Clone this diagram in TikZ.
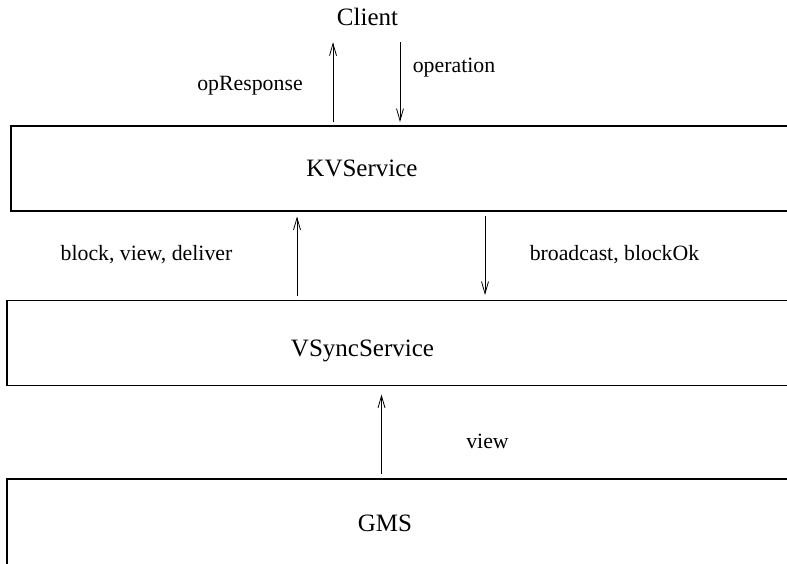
\documentclass[tikz,border=0pt]{standalone}
\usepackage{fontspec}
\setmainfont{Liberation Serif}
\usetikzlibrary{arrows.meta}
\begin{document}
\begin{tikzpicture}[x=1pt,y=-1pt,
  box/.style={draw, line width=1.1pt, rectangle, anchor=north west, inner sep=0pt, outer sep=0pt},
  title/.style={font=\fontsize{25}{30}\selectfont, anchor=base, inner sep=0pt, outer sep=0pt},
  lbl/.style={font=\fontsize{21.8}{26}\selectfont, anchor=base, inner sep=0pt},
  arr/.style={line width=0.8pt, -{Straight Barb[length=12pt,width=7pt]}}]
\useasboundingbox (0,0) rectangle (787,563);
\clip (0,0) rectangle (787,563);
% boxes
\node[box, minimum width=800pt, minimum height=85pt] (kv) at (11,126) {};
\node[box, minimum width=800pt, minimum height=85pt] (vs) at (7,300.5) {};
\node[box, minimum width=800pt, minimum height=120pt] (gms) at (7,479) {};
% titles
\node[title] (client) at (367.5,25) {Client};
\node[title] (kvt) at (362,176) {KVService};
\node[title] (vst) at (362.5,356) {VSyncService};
\node[title] (gmst) at (385,531) {GMS};
% arrow columns
\coordinate (a1) at (333,0);
\coordinate (a2) at (400,0);
\coordinate (a3) at (297,0);
\coordinate (a4) at (485,0);
\coordinate (a5) at (381.5,0);
% arrows
\draw[arr] ([yshift=4pt]kv.north -| a1) -- ([yshift=-17pt]client.south -| a1);
\draw[arr] ([yshift=-17pt]client.south -| a2) -- ([yshift=4pt]kv.north -| a2);
\draw[arr] ([yshift=4.5pt]vs.north -| a3) -- ([yshift=-5.5pt]kv.south -| a3);
\draw[arr] ([yshift=-5pt]kv.south -| a4) -- ([yshift=5.5pt]vs.north -| a4);
\draw[arr] ([yshift=5pt]gms.north -| a5) -- ([yshift=-9pt]vs.south -| a5);
% labels
\node[lbl] at (250,90) {opResponse};
\node[lbl] at (454,72) {operation};
\node[lbl] at (146.5,260) {block, view, deliver};
\node[lbl] at (614.5,260) {broadcast, blockOk};
\node[lbl] at (487.5,448) {view};
\end{tikzpicture}
\end{document}
